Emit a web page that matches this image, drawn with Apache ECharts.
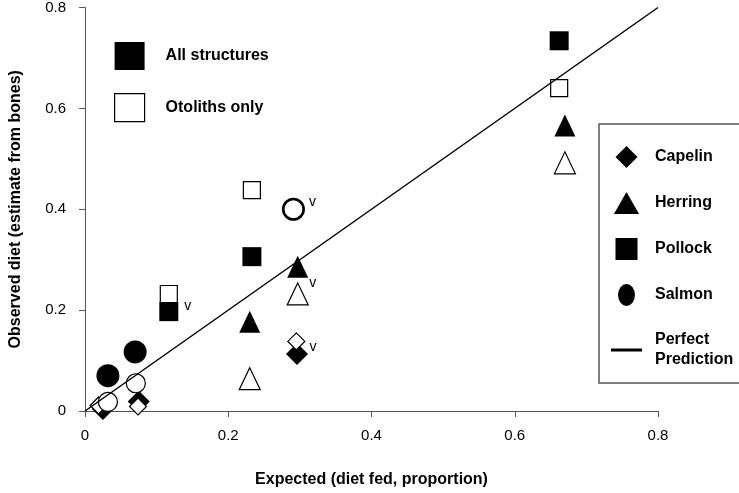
<!DOCTYPE html>
<html>
<head>
<meta charset="utf-8">
<script src="https://cdn.jsdelivr.net/npm/echarts@6/dist/echarts.min.js"></script>
<style>
html, body { margin: 0; padding: 0; background: #fff; }
#chart { width: 739px; height: 493px; }
</style>
</head>
<body>
<div id="chart"></div>
<script>
// expected (diet fed) vs observed (estimate from bones)
var species = ['Capelin', 'Herring', 'Pollock', 'Salmon'];
var capelinAll = [[0.025, 0.004], [0.075, 0.019], [0.296, 0.113]];
var capelinOto = [[0.019, 0.011], [0.074, 0.009], [0.295, 0.138]];
var herringAll = [[0.230, 0.177], [0.297, 0.286], [0.670, 0.566]];
var herringOto = [[0.230, 0.064], [0.297, 0.232], [0.670, 0.492]];
var pollockAll = [[0.117, 0.197], [0.233, 0.306], [0.662, 0.734]];
var pollockOto = [[0.117, 0.232], [0.233, 0.438], [0.662, 0.640]];
var salmonAll = [[0.032, 0.070], [0.070, 0.117], [0.291, 0.400]];
var salmonOto = [[0.032, 0.018], [0.071, 0.055], [0.291, 0.400]];
var perfectLine = [[0, 0], [0.8, 0.8]];
// points marked with a "v"
var flagged = [['Pollock', 0], ['Herring', 1], ['Capelin', 2], ['Salmon', 2]];

var myChart = echarts.init(document.getElementById('chart'));
var FONT = "'Liberation Sans', Arial, sans-serif";

var allData = { Capelin: capelinAll, Herring: herringAll, Pollock: pollockAll, Salmon: salmonAll };
var otoData = { Capelin: capelinOto, Herring: herringOto, Pollock: pollockOto, Salmon: salmonOto };
var symbols = { Capelin: 'diamond', Herring: 'triangle', Pollock: 'rect', Salmon: 'circle' };
var allSize = { Capelin: 22, Herring: [21, 22], Pollock: 19, Salmon: 23 };
var otoSize = { Capelin: 17, Herring: [21, 22], Pollock: 17, Salmon: 19 };
var vOffset = { Pollock: [19, -5], Herring: [15, 16], Capelin: [16, -7], Salmon: [19, -7] };
var legendIcons = {
    Capelin: 'path://M10,0L20,10L10,20L0,10Z',
    Herring: 'path://M12,0L24,21L0,21Z',
    Pollock: 'path://M0,0H19V19H0Z',
    Salmon: 'path://M0,13A10,13 0 1,1 20,13A10,13 0 1,1 0,13Z',
    'Perfect Prediction': 'path://M0,0H31V3H0Z'
};
var filled = { color: '#000', opacity: 1 };
var hollow = { color: '#fff', borderColor: '#000', borderWidth: 1.2, opacity: 1 };

var series = [];
species.forEach(function (sp) {
    var pts = allData[sp].map(function (p, i) {
        var isFlag = flagged.some(function (f) { return f[0] === sp && f[1] === i; });
        if (!isFlag) return p;
        return {
            value: p,
            label: {
                show: true, formatter: 'v', position: 'inside', offset: vOffset[sp],
                color: '#000', fontSize: 14, fontFamily: FONT
            }
        };
    });
    series.push({
        name: sp,
        type: 'scatter',
        symbol: symbols[sp],
        symbolSize: allSize[sp],
        itemStyle: filled,
        data: pts
    });
});
species.forEach(function (sp) {
    series.push({
        name: sp + ' (otoliths)',
        type: 'scatter',
        symbol: symbols[sp],
        symbolSize: otoSize[sp],
        itemStyle: hollow,
        data: otoData[sp]
    });
});
series.push({ name: 'All structures', type: 'scatter', symbol: 'rect', itemStyle: filled, data: [] });
series.push({ name: 'Otoliths only', type: 'scatter', symbol: 'rect', itemStyle: hollow, data: [] });
series.push({
    name: 'Perfect Prediction',
    type: 'line',
    showSymbol: false,
    color: '#000',
    lineStyle: { color: '#000', width: 1.5 },
    data: perfectLine
});

var axisCommon = {
    min: 0, max: 0.8, interval: 0.2,
    nameLocation: 'middle',
    nameTextStyle: { color: '#000', fontSize: 16, fontWeight: 'bold', fontFamily: FONT },
    axisLine: { lineStyle: { color: '#555', width: 1 } },
    axisTick: { length: 6, lineStyle: { color: '#555' } },
    splitLine: { show: false },
    axisLabel: { color: '#000', fontSize: 15, fontFamily: FONT }
};

option = {
    animation: false,
    grid: { left: 84, right: 81, top: 7, bottom: 75 },
    xAxis: echarts.util.merge({
        type: 'value',
        name: 'Expected (diet fed, proportion)',
        nameGap: 61,
        axisLabel: { margin: 17 }
    }, axisCommon),
    yAxis: echarts.util.merge({
        type: 'value',
        name: 'Observed diet (estimate from bones)',
        nameGap: 61,
        axisLabel: { margin: 19 }
    }, axisCommon),
    legend: [{
        orient: 'vertical',
        left: 109, top: 37,
        itemWidth: 30, itemHeight: 28, itemGap: 23,
        selectedMode: false,
        data: [
            { name: 'All structures', icon: 'rect', itemStyle: filled },
            { name: 'Otoliths only', icon: 'rect', itemStyle: hollow }
        ],
        textStyle: { color: '#000', fontSize: 16, fontWeight: 'bold', fontFamily: FONT, padding: [0, 0, 0, 16] }
    }, {
        orient: 'vertical',
        left: 599, top: 124,
        itemWidth: 31, itemHeight: 22, itemGap: 24,
        padding: [22, 60, 13, 12],
        borderColor: '#555', borderWidth: 1.5,
        selectedMode: false,
        data: species.concat(['Perfect Prediction']).map(function (n) {
            return { name: n, icon: legendIcons[n], itemStyle: { color: '#000', borderWidth: 0, opacity: 1 } };
        }),
        formatter: function (name) {
            return name === 'Perfect Prediction' ? 'Perfect\nPrediction' : name;
        },
        textStyle: { color: '#000', fontSize: 16, fontWeight: 'bold', fontFamily: FONT, lineHeight: 20, padding: [0, 0, 0, 8] }
    }],
    series: series
};

myChart.setOption(option);
window.addEventListener('resize', function () {
    myChart.resize();
});
</script>
</body>
</html>
